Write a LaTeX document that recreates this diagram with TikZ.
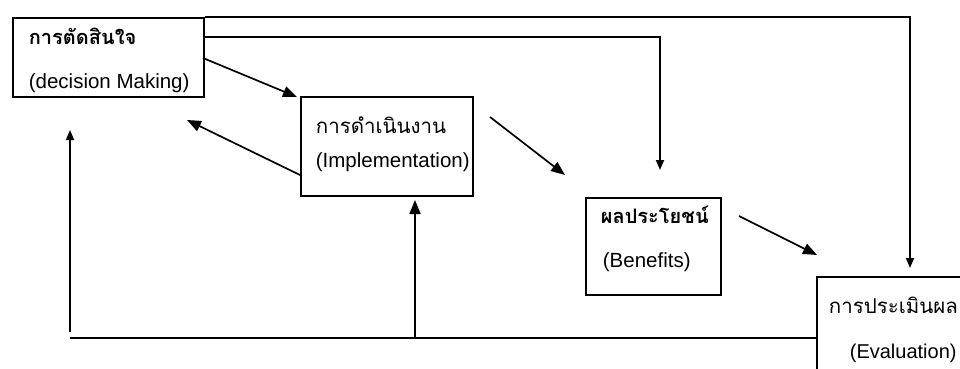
\documentclass[tikz,border=0pt]{standalone}
\usepackage{fontspec}
\setmainfont{Liberation Sans}
\newfontfamily\thaifont[Script=Thai]{Loma}
\usetikzlibrary{arrows.meta}
\begin{document}
\begin{tikzpicture}[x=1pt,y=-1pt,
  line width=1.7pt,
  boxst/.style={draw,line width=1.9pt,rectangle,anchor=north west,inner sep=0pt},
  lbl/.style={anchor=west,inner sep=0pt,font=\fontsize{20.5}{22}\selectfont},
  thlbl/.style={anchor=west,inner sep=0pt,font=\thaifont\fontsize{20.5}{22}\selectfont},
  thbold/.style={anchor=west,inner sep=0pt,font=\thaifont\bfseries\fontsize{20}{22}\selectfont},
  arr/.style={-{Triangle[length=14pt,width=11pt]}},
  sarr/.style={-{Triangle[length=10pt,width=8pt]}}]
\useasboundingbox (0,0) rectangle (960,369);
% boxes
\node[boxst,minimum width=191pt,minimum height=79pt] (dm) at (12,17) {};
\node[boxst,minimum width=172pt,minimum height=99pt] (im) at (300,96) {};
\node[boxst,minimum width=135pt,minimum height=97pt] (be) at (585,197) {};
\node[boxst,minimum width=160pt,minimum height=110pt] (ev) at (816,276) {};
% texts
\node[thbold] (t1) at (28,36) {การตัดสินใจ};
\node[lbl] (e1) at (28,83) {(decision Making)};
\node[thlbl] (t2) at (315,125) {การดำเนินงาน};
\node[lbl] (e2) at (315,162) {(Implementation)};
\node[thbold] (t3) at (600,215) {ผลประโยชน์};
\node[lbl] (e3) at (602,262) {(Benefits)};
\node[thlbl] (t4) at (828,305) {การประเมินผล};
\node[lbl,font=\fontsize{20}{22}\selectfont] (e4) at (849,353) {(Evaluation)};
% coordinates
\coordinate (a1s) at (203,58);
\coordinate (a1e) at (297,97);
\coordinate (a2s) at (300,175);
\coordinate (a2e) at (187,120);
\coordinate (a3s) at (490,117);
\coordinate (a3e) at (565,175);
\coordinate (a4s) at (739,216);
\coordinate (a4e) at (817,255);
\coordinate (top1) at (910,17);
\coordinate (top1e) at (910,268);
\coordinate (top2s) at (203,37);
\coordinate (top2) at (660,37);
\coordinate (top2e) at (660,170);
\coordinate (botr) at (816,338);
\coordinate (botl) at (70,338);
\coordinate (lvs) at (70,332);
\coordinate (lve) at (70,130);
\coordinate (mvs) at (415,338);
\coordinate (mve) at (415,200);
% connectors
\draw[arr] (a1s) -- (a1e);
\draw[arr] (a2s) -- (a2e);
\draw[arr] (a3s) -- (a3e);
\draw[arr] (a4s) -- (a4e);
\draw[sarr] (dm.north east) -- (top1) -- (top1e);
\draw[sarr] (top2s) -- (top2) -- (top2e);
\draw (botr) -- (botl);
\draw[sarr] (lvs) -- (lve);
\draw[arr] (mvs) -- (mve);
\end{tikzpicture}
\end{document}
